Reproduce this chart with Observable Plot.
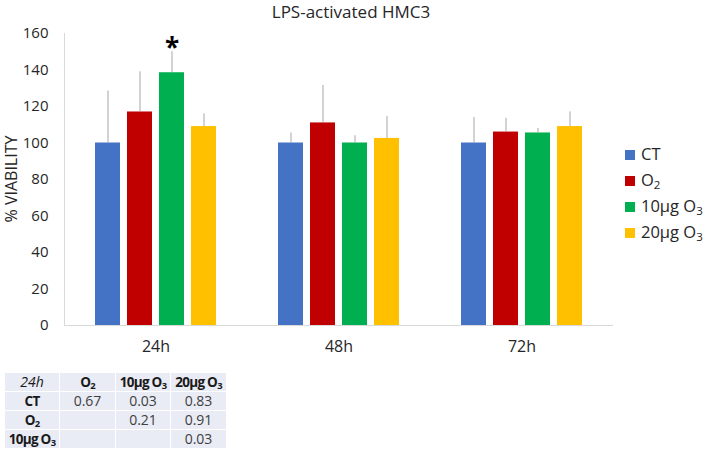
<!DOCTYPE html>
<html>
<head>
<meta charset="utf-8">
<script src="https://cdn.jsdelivr.net/npm/d3@7"></script>
<script src="https://cdn.jsdelivr.net/npm/@observablehq/plot@0.6"></script>
<style>
  html, body { margin: 0; padding: 0; background: #fff; }
  body { width: 709px; height: 452px; position: relative; overflow: hidden; font-family: "Open Sans", sans-serif; color: #262626; }
  #title { position: absolute; top: 1px; left: 0; width: 702px; text-align: center; font-size: 17px; line-height: 22px; }
  #chart { position: absolute; top: 0; left: 0; }
  #legend { position: absolute; left: 625px; top: 142px; font-size: 16.5px; }
  #legend .item { height: 26px; line-height: 24px; white-space: nowrap; }
  #legend .sw { display: inline-block; width: 10px; height: 10px; margin-right: 6px; vertical-align: 0px; }
  sub { font-size: 0.7em; vertical-align: -0.25em; line-height: 0; }
  #ptable { position: absolute; left: 4px; top: 372px; border-collapse: collapse; table-layout: fixed; font-size: 14px; }
  #ptable td { background: #e9ebf5; border: 1.5px solid #fff; height: 18px; padding: 0; text-align: center; line-height: 18px; color: #404040; white-space: nowrap; overflow: visible; }
  #ptable td.h { font-weight: bold; color: #1a1a1a; font-size: 13.5px; letter-spacing: -0.7px; }
  #ptable td.it { font-style: italic; color: #1a1a1a; }
</style>
</head>
<body>
<div id="title">LPS-activated HMC3</div>
<div id="chart"></div>
<div id="legend"></div>
<table id="ptable"></table>
<script>
// ---- data ----
const times = ["24h", "48h", "72h"];
const treatments = ["CT", "O2", "10µg O3", "20µg O3"];
const colors = ["#4472C4", "#C00000", "#00B050", "#FFC000"];
// mean % viability per treatment, across times
const meanCT   = [100, 100, 100];
const meanO2   = [117, 111, 106];
const mean10   = [138.5, 100, 105.5];
const mean20   = [109, 102.5, 109];
// top of error bar (mean + SD)
const upperCT  = [128.5, 105.5, 114];
const upperO2  = [139, 131.5, 113.5];
const upper10  = [150, 104, 108];
const upper20  = [116, 114.5, 117];
// significance marker
const starTime = "24h", starTreatment = "10µg O3", starText = "*";
// legend labels [base, subscript]
const legendLabels = [["CT", ""], ["O", "2"], ["10µg O", "3"], ["20µg O", "3"]];
// p-value table (24h)
const tableHeader = [["24h", ""], ["O", "2"], ["10µg O", "3"], ["20µg O", "3"]];
const tableRowLabels = [["CT", ""], ["O", "2"], ["10µg O", "3"]];
const tableValues = [["0.67", "0.03", "0.83"], ["", "0.21", "0.91"], ["", "", "0.03"]];

const means = [meanCT, meanO2, mean10, mean20];
const uppers = [upperCT, upperO2, upper10, upper20];
const rows = [];
treatments.forEach((t, i) => times.forEach((tm, j) => rows.push({time: tm, treatment: t, value: means[i][j], upper: uppers[i][j]})));
const star = rows.filter(d => d.time === starTime && d.treatment === starTreatment);

const plot = Plot.plot({
  width: 709,
  height: 365,
  marginTop: 33,
  marginBottom: 40,
  marginLeft: 64,
  marginRight: 96,
  style: {fontFamily: "Open Sans, sans-serif", fontSize: "15px", color: "#262626", background: "transparent"},
  fx: {domain: times, padding: 0, label: null, axis: null},
  x: {domain: treatments, paddingInner: 0.212, paddingOuter: 0.879, axis: null},
  y: {domain: [0, 160], label: null, axis: null},
  color: {domain: treatments, range: colors},
  marks: [
    Plot.frame({anchor: "left", stroke: "#d9d9d9", facetAnchor: "left"}),
    Plot.ruleY([0], {stroke: "#d9d9d9"}),
    Plot.barY(rows, {fx: "time", x: "treatment", y: "value", fill: "treatment"}),
    Plot.ruleX(rows, {fx: "time", x: "treatment", y1: "value", y2: "upper", stroke: "#a6a6a6", strokeWidth: 1}),
    Plot.text(star, {fx: "time", x: "treatment", y: "upper", text: () => starText, fontSize: 26, fontWeight: "bold", fill: "#000", dy: -3}),
    Plot.axisY({ticks: d3.range(0, 161, 20), tickSize: 0, tickPadding: 16, label: null, fontSize: 15}),
    Plot.axisFx({anchor: "bottom", tickSize: 0, tickPadding: 15, label: null, fontSize: 16})
  ]
});
const svg = plot;
document.getElementById("chart").appendChild(plot);

// y label
const ns = "http://www.w3.org/2000/svg";
const yl = document.createElementNS(ns, "text");
yl.setAttribute("transform", "translate(17,179) rotate(-90)");
yl.setAttribute("text-anchor", "middle");
yl.setAttribute("font-size", "16");
yl.setAttribute("fill", "#262626");
yl.textContent = "% VIABILITY";
svg.appendChild(yl);

// legend
const lg = document.getElementById("legend");
legendLabels.forEach((l, i) => {
  const div = document.createElement("div");
  div.className = "item";
  div.innerHTML = `<span class="sw" style="background:${colors[i]}"></span>${l[0]}${l[1] ? `<sub>${l[1]}</sub>` : ""}`;
  lg.appendChild(div);
});

// table
const fmt = l => `${l[0]}${l[1] ? `<sub>${l[1]}</sub>` : ""}`;
const tbl = document.getElementById("ptable");
const widths = [55, 56, 55, 56];
let html = "<colgroup>" + widths.map(w => `<col style="width:${w}px">`).join("") + "</colgroup>";
html += "<tr>" + tableHeader.map((h, i) => `<td class="${i === 0 ? "it" : "h"}">${fmt(h)}</td>`).join("") + "</tr>";
tableRowLabels.forEach((r, i) => {
  html += `<tr><td class="h">${fmt(r)}</td>` + tableValues[i].map(v => `<td>${v}</td>`).join("") + "</tr>";
});
tbl.innerHTML = html;
</script>
</body>
</html>
